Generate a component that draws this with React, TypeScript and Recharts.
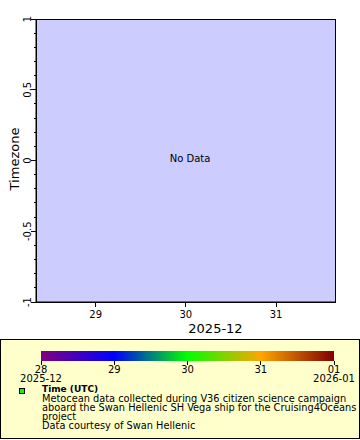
import { LineChart, Line, XAxis, YAxis, ReferenceArea } from "recharts";

const FONT = "'DejaVu Sans', sans-serif";

// day of December 2025 vs timezone offset; the campaign returned no rows
const timeDays: number[] = [];
const timezoneOffsets: number[] = [];

const xDomain = [28.338, 31.654];
const xTicks = [29, 30, 31];
const yDomain = [-1, 1];
const yTicks = [
  -1, -0.9, -0.8, -0.7, -0.6, -0.5, -0.4, -0.3, -0.2, -0.1, 0, 0.1, 0.2, 0.3,
  0.4, 0.5, 0.6, 0.7, 0.8, 0.9, 1,
];
const yLabelTicks = [-1, -0.5, 0, 0.5, 1];

// colour bar (time of observation)
const cbDomain = [28, 32];
const cbTicks = [28, 29, 30, 31, 32];
const cbTickLabels = ["28", "29", "30", "31", "01"];
const cbMonthLabels = ["2025-12", "", "", "", "2026-01"];
const cbColors = ["#800080", "#0000ff", "#00ff00", "#ffa500", "#800000"];

const legendTitle = "Time (UTC)";
const legendLines = [
  "Metocean data collected during V36 citizen science campaign",
  "aboard the Swan Hellenic SH Vega ship for the Cruising4Oceans",
  "project",
  "Data courtesy of Swan Hellenic",
];

const points = timeDays.map((t, i) => ({ t, tz: timezoneOffsets[i] }));
const cbPoints = cbTicks.map((t) => ({ t, v: 0.5 }));

// eslint-disable-next-line @typescript-eslint/no-explicit-any
function YTick({ x, y, payload }: any) {
  const v = payload.value as number;
  const major = yLabelTicks.some((t) => Math.abs(t - v) < 1e-6);
  const lx = x - 5;
  return (
    <g>
      <line
        x1={x - (major ? 5 : 2.5)}
        x2={x}
        y1={y}
        y2={y}
        stroke="#000"
        shapeRendering="crispEdges"
      />
      {major && (
        <text
          x={lx}
          y={y}
          transform={`rotate(-90 ${lx} ${y})`}
          textAnchor="middle"
          fontSize={10}
          fontFamily={FONT}
          fill="#000"
        >
          {String(v)}
        </text>
      )}
    </g>
  );
}

// eslint-disable-next-line @typescript-eslint/no-explicit-any
function XTick({ x, y, payload }: any) {
  return (
    <g>
      <line x1={x} x2={x} y1={y} y2={y + 5} stroke="#000" shapeRendering="crispEdges" />
      <text x={x} y={y + 16} textAnchor="middle" fontSize={10} fontFamily={FONT} fill="#000">
        {payload.value}
      </text>
    </g>
  );
}

// eslint-disable-next-line @typescript-eslint/no-explicit-any
function CbTick({ x, y, payload }: any) {
  const i = cbTicks.indexOf(payload.value);
  return (
    <g>
      <line x1={x} x2={x} y1={y} y2={y + 4} stroke="#000" shapeRendering="crispEdges" />
      <text x={x} y={y + 12} textAnchor="middle" fontSize={10} fontFamily={FONT} fill="#000">
        {cbTickLabels[i]}
      </text>
      <text x={x} y={y + 21} textAnchor="middle" fontSize={10} fontFamily={FONT} fill="#000">
        {cbMonthLabels[i]}
      </text>
    </g>
  );
}

export default function App() {
  return (
    <div
      style={{
        position: "absolute",
        left: 0,
        top: 0,
        width: 360,
        height: 440,
        background: "#fff",
        fontFamily: FONT,
      }}
    >
      <LineChart
        width={360}
        height={338}
        data={points}
        margin={{ top: 19, right: 25, bottom: 0, left: 0 }}
      >
        <ReferenceArea
          x1={xDomain[0]}
          x2={xDomain[1]}
          y1={yDomain[0]}
          y2={yDomain[1]}
          fill="#ccccff"
          fillOpacity={1}
          stroke="#000"
          shapeRendering="crispEdges"
          label={{
            // eslint-disable-next-line @typescript-eslint/no-explicit-any
            content: ({ viewBox }: any) => (
              <text
                x={viewBox.x + viewBox.width / 2 + 4.5}
                y={viewBox.y + viewBox.height / 2 + 1}
                textAnchor="middle"
                fontSize={10}
                fontFamily={FONT}
                fill="#000"
              >
                No Data
              </text>
            ),
          }}
        />
        <XAxis
          dataKey="t"
          type="number"
          domain={xDomain}
          ticks={xTicks}
          interval={0}
          allowDataOverflow
          height={36}
          tickSize={0}
          tickMargin={0}
          tickLine={false}
          axisLine={{ stroke: "#000" }}
          tick={<XTick />}
          label={{
            // eslint-disable-next-line @typescript-eslint/no-explicit-any
            content: ({ viewBox }: any) => (
              <text
                x={viewBox.x + viewBox.width / 2 + 30}
                y={viewBox.y + 31}
                textAnchor="middle"
                fontSize={13}
                fontFamily={FONT}
                fill="#000"
              >
                2025-12
              </text>
            ),
          }}
        />
        <YAxis
          dataKey="tz"
          type="number"
          domain={yDomain}
          ticks={yTicks}
          interval={0}
          allowDataOverflow
          width={36}
          tickSize={0}
          tickMargin={0}
          tickLine={false}
          axisLine={{ stroke: "#000" }}
          tick={<YTick />}
          label={{
            // eslint-disable-next-line @typescript-eslint/no-explicit-any
            content: ({ viewBox }: any) => {
              const lx = 19;
              const ly = viewBox.y + viewBox.height / 2 - 1.5;
              return (
                <text
                  x={lx}
                  y={ly}
                  transform={`rotate(-90 ${lx} ${ly})`}
                  textAnchor="middle"
                  fontSize={13}
                  fontFamily={FONT}
                  fill="#000"
                >
                  Timezone
                </text>
              );
            },
          }}
        />
        <Line
          dataKey="tz"
          stroke="#00ff00"
          dot={false}
          isAnimationActive={false}
        />
      </LineChart>

      <div
        style={{
          position: "absolute",
          left: 0,
          top: 339,
          width: 360,
          height: 100,
          boxSizing: "border-box",
          border: "1px solid #000",
          background: "#ffffcc",
        }}
      />

      <div style={{ position: "absolute", left: 0, top: 339 }}>
        <LineChart
          width={360}
          height={50}
          data={cbPoints}
          margin={{ top: 12, right: 26, bottom: 0, left: 41 }}
        >
          <defs>
            <linearGradient id="cbGrad" x1="0" y1="0" x2="1" y2="0">
              {cbColors.map((c, i) => (
                <stop key={c} offset={i / (cbColors.length - 1)} stopColor={c} />
              ))}
            </linearGradient>
          </defs>
          <XAxis
            dataKey="t"
            type="number"
            domain={cbDomain}
            ticks={cbTicks}
            interval={0}
            height={28}
            tickSize={0}
            tickMargin={0}
            tickLine={false}
            axisLine={false}
            tick={<CbTick />}
          />
          <YAxis dataKey="v" type="number" domain={[0, 1]} width={0} hide />
          <ReferenceArea
            x1={cbDomain[0]}
            x2={cbDomain[1]}
            y1={0}
            y2={1}
            fill="url(#cbGrad)"
            fillOpacity={1}
            stroke="none"
          />
          <Line
            dataKey="v"
            stroke="none"
            dot={false}
            activeDot={false}
            isAnimationActive={false}
          />
        </LineChart>
      </div>

      <svg
        width={360}
        height={100}
        style={{ position: "absolute", left: 0, top: 339 }}
        fontFamily={FONT}
      >
        <rect x={19.5} y={49.5} width={5} height={5} fill="#00ff00" stroke="#000" />
        <text x={42} y={53.3} fontSize={9} fontWeight="bold" fill="#000">
          {legendTitle}
        </text>
        {legendLines.map((line, i) => (
          <text key={line} x={42} y={62.5 + i * 9} fontSize={9.8} fill="#000">
            {line}
          </text>
        ))}
      </svg>
    </div>
  );
}
